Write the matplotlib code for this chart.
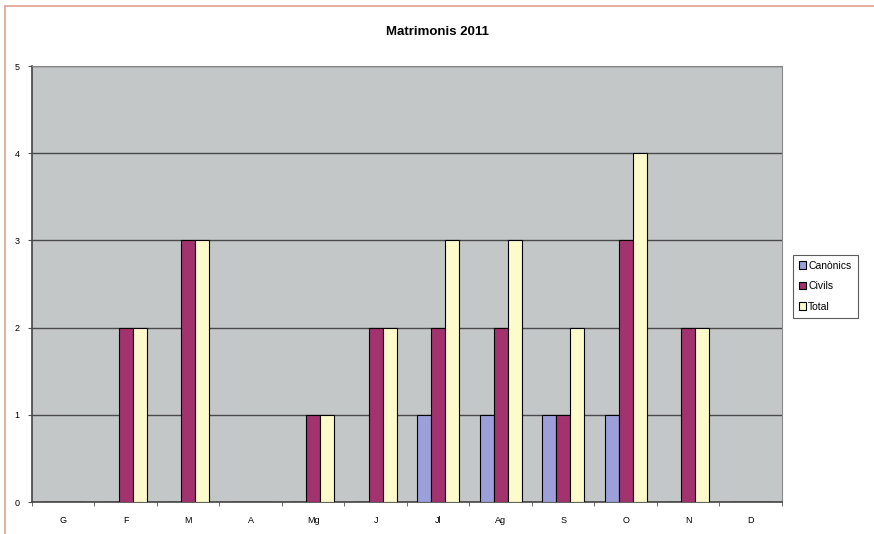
import numpy as np
import matplotlib.pyplot as plt
from matplotlib.patches import Rectangle

mesos = ['G', 'F', 'M', 'A', 'Mg', 'J', 'Jl', 'Ag', 'S', 'O', 'N', 'D']
canonics = [0, 0, 0, 0, 0, 0, 1, 1, 1, 1, 0, 0]
civils = [0, 2, 3, 0, 1, 2, 2, 2, 1, 3, 2, 0]
total = [0, 2, 3, 0, 1, 2, 3, 3, 2, 4, 2, 0]

plt.rcParams['font.family'] = ['Liberation Sans', 'DejaVu Sans']

fig = plt.figure(figsize=(8.74, 5.34), dpi=100)
fig.patch.set_facecolor('white')

# marc exterior
fig.add_artist(Rectangle((0.006, -0.01), 1.2, 0.999, transform=fig.transFigure,
                         fill=False, edgecolor='#e0a090', linewidth=1.2))

ax = fig.add_axes([0.0366, 0.0599, 0.858, 0.8165])
ax.set_facecolor('#c3c7c7')

x = np.arange(len(mesos))
w = 0.224
ax.bar(x - w, canonics, w, color='#9c9fda', edgecolor='black', linewidth=0.8, label='Canònics', zorder=3)
ax.bar(x, civils, w, color='#a3336f', edgecolor='black', linewidth=0.8, label='Civils', zorder=3)
ax.bar(x + w, total, w, color='#fdfbcc', edgecolor='black', linewidth=0.8, label='Total', zorder=3)

ax.set_xlim(-0.5, len(mesos) - 0.5)
ax.set_ylim(0, 5)
ax.set_yticks(range(6))
ax.set_xticks(x)
ax.set_xticklabels(mesos)
ax.set_xticks(np.arange(-0.5, len(mesos), 1), minor=True)
ax.tick_params(axis='x', which='major', length=0, labelsize=6.5, pad=10)
ax.tick_params(axis='x', which='minor', length=3, color='#555555')
ax.tick_params(axis='y', labelsize=6.5, length=3, color='#555555', pad=6)
ax.yaxis.grid(True, color='#4a4a4a', linewidth=1.0, zorder=1)
ax.set_axisbelow(True)
for s in ['top', 'right']:
    ax.spines[s].set_color('#888888')
for s in ['left', 'bottom']:
    ax.spines[s].set_color('#444444')
    ax.spines[s].set_linewidth(1.2)

fig.text(0.5, 0.94, 'Matrimonis 2011', ha='center', va='center', fontsize=9.5, fontweight='bold')

leg = ax.legend(loc='center left', bbox_to_anchor=(1.01, 0.495), fontsize=7.5,
                frameon=True, fancybox=False, edgecolor='#333333',
                handlelength=0.7, handleheight=0.7, handletextpad=0.2,
                borderpad=0.6, labelspacing=1.0, borderaxespad=0.3)
leg.get_frame().set_linewidth(0.8)

fig.savefig('out.png', dpi=100)
